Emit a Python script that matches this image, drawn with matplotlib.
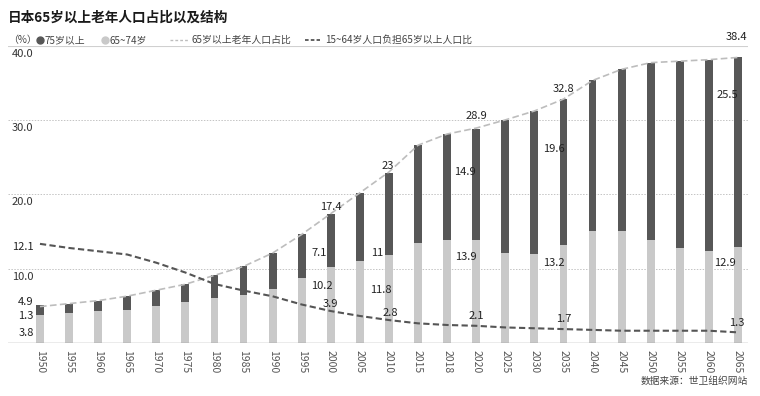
import matplotlib
matplotlib.use("Agg")
import matplotlib.pyplot as plt
from matplotlib.lines import Line2D

plt.rcParams['font.family'] = ['Liberation Sans Narrow', 'Noto Sans CJK SC', 'DejaVu Sans']

# Donnees
years = ['1950', '1955', '1960', '1965', '1970', '1975', '1980', '1985', '1990',
         '1995', '2000', '2005', '2010', '2015', '2018', '2020', '2025', '2030',
         '2035', '2040', '2045', '2050', '2055', '2060', '2065']
age65_74 = [3.8, 4.1, 4.3, 4.5, 5.0, 5.5, 6.0, 6.4, 7.2, 8.8, 10.2, 11.0, 11.8,
            13.5, 13.9, 13.9, 12.1, 12.0, 13.2, 15.0, 15.1, 13.9, 12.8, 12.4, 12.9]
age75 = [1.3, 1.2, 1.4, 1.8, 2.1, 2.4, 3.1, 3.9, 4.9, 5.8, 7.1, 9.2, 11.0,
         13.1, 14.2, 14.9, 17.9, 19.2, 19.6, 20.3, 21.7, 23.8, 25.1, 25.7, 25.5]
share65 = [4.9, 5.3, 5.7, 6.3, 7.1, 7.9, 9.1, 10.3, 12.1, 14.6, 17.4, 20.2, 23.0,
           26.6, 28.1, 28.9, 30.0, 31.2, 32.8, 35.3, 36.8, 37.7, 37.9, 38.1, 38.4]
ratio = [12.1, 11.6, 11.2, 10.8, 9.8, 8.6, 7.2, 6.4, 5.7, 4.7, 3.9, 3.3, 2.8,
         2.4, 2.2, 2.1, 1.9, 1.8, 1.7, 1.6, 1.5, 1.5, 1.5, 1.5, 1.3]
labelled = [0, 10, 12, 15, 18, 24]

DARK = '#575757'
LIGHT = '#c9c9c9'

fig = plt.figure(figsize=(7.6, 3.96), dpi=100)
ax = fig.add_axes([0.0105, 0.1338, 0.9735, 0.7512])
x = list(range(len(years)))

ax.bar(x, age65_74, width=0.27, color=LIGHT, zorder=2)
ax.bar(x, age75, width=0.27, bottom=age65_74, color=DARK, zorder=2)
ax.plot(x, share65, color='#bdbdbd', lw=1.2, dashes=(4, 2), zorder=3)

ax.set_xlim(-1.1, 24.34)
ax.set_ylim(0, 40)
for v in [10, 20, 30]:
    ax.axhline(v, color='#c4c4c4', lw=0.7, ls=(0, (1.5, 1.5)), zorder=1)
ax.axhline(40, color='#d0d0d0', lw=0.8, zorder=1)
ax.axhline(0, color='#9a9a9a', lw=1.0, zorder=4)
for s in ax.spines.values():
    s.set_visible(False)
ax.set_yticks([])
ax.set_xticks(x)
ax.set_xticklabels(years, rotation=-90, fontsize=7.5, color='#555555')
ax.tick_params(axis='x', length=0, pad=5)

# etiquettes de l'axe y
for v in [10, 20, 30, 40]:
    ax.annotate('%.1f' % v, xy=(0.005, v), xycoords=ax.get_yaxis_transform(),
                xytext=(0, -3), textcoords='offset pixels', ha='left', va='top',
                fontsize=8, color='#333333')

# ligne du ratio sur un second axe
ax2 = ax.twinx()
ax2.set_ylim(0, 36.3)
ax2.axis('off')
ax2.plot(x, ratio, color='#555555', lw=1.5, dashes=(3, 1.6), zorder=5)

# etiquettes des valeurs
off_total = {0: (-14, 5), 10: (0, 7), 12: (-1, 6), 15: (0, 12), 18: (0, 10), 24: (-1, 20)}
off_dark = {0: (-14, -1), 10: (-12, 14), 12: (-12, 2), 15: (-11, 68), 18: (-10, 96), 24: (-11, 152)}
off_light = {0: (-14, -18), 10: (-9, -19), 12: (-8, -35), 15: (-10, -17), 18: (-10, -18), 24: (-13, -16)}
off_ratio = {0: (-17, -3), 10: (0, 7), 12: (1, 7), 15: (0, 10), 18: (0, 10), 24: (-1, 9)}

def fmt(v):
    return ('%.1f' % v).rstrip('0').rstrip('.') if v == int(v) else '%.1f' % v

for i in labelled:
    kw = dict(textcoords='offset pixels', ha='center', va='center',
              fontsize=8, color='#222222', zorder=10)
    ax.annotate(fmt(share65[i]), xy=(i, share65[i]), xytext=off_total[i], **kw)
    ax.annotate(fmt(age75[i]), xy=(i, age65_74[i]), xytext=off_dark[i], **kw)
    ax.annotate(fmt(age65_74[i]), xy=(i, age65_74[i]), xytext=off_light[i], **kw)
    ax2.annotate(fmt(ratio[i]), xy=(i, ratio[i]), xytext=off_ratio[i], **kw)

# titre et legende
fig.text(0.0105, 0.955, '日本65岁以上老年人口占比以及结构', fontsize=9.8,
         fontweight='bold', color='#1a1a1a', va='center', ha='left',
         family=['Noto Sans CJK SC', 'DejaVu Sans'])
ly = 1 - 40 / 396
leg_kw = dict(fontsize=7.1, color='#444444', va='center', ha='left',
              family=['Noto Sans CJK SC', 'DejaVu Sans'])
fig.text(8 / 760, ly, '（%）', **leg_kw)
fig.add_artist(Line2D([40 / 760], [ly], marker='o', ms=5, color=DARK,
                      transform=fig.transFigure))
fig.text(45 / 760, ly, '75岁以上', **leg_kw)
fig.add_artist(Line2D([105 / 760], [ly], marker='o', ms=5, color=LIGHT,
                      transform=fig.transFigure))
fig.text(110 / 760, ly, '65~74岁', **leg_kw)
fig.add_artist(Line2D([170 / 760, 188 / 760], [ly, ly], color='#bdbdbd', lw=1,
                      dashes=(2, 1.5), transform=fig.transFigure))
fig.text(192 / 760, ly, '65岁以上老年人口占比', **leg_kw)
fig.add_artist(Line2D([305 / 760, 320 / 760], [ly, ly], color='#555555', lw=1.3,
                      dashes=(2, 1.2), transform=fig.transFigure))
fig.text(325 / 760, ly, '15~64岁人口负担65岁以上人口比', **leg_kw)

fig.text(748 / 760, 1 - 381 / 396, '数据来源：世卫组织网站', fontsize=7,
         color='#444444', ha='right', va='center',
         family=['Noto Sans CJK SC', 'DejaVu Sans'])

fig.savefig('out.png', dpi=100)
